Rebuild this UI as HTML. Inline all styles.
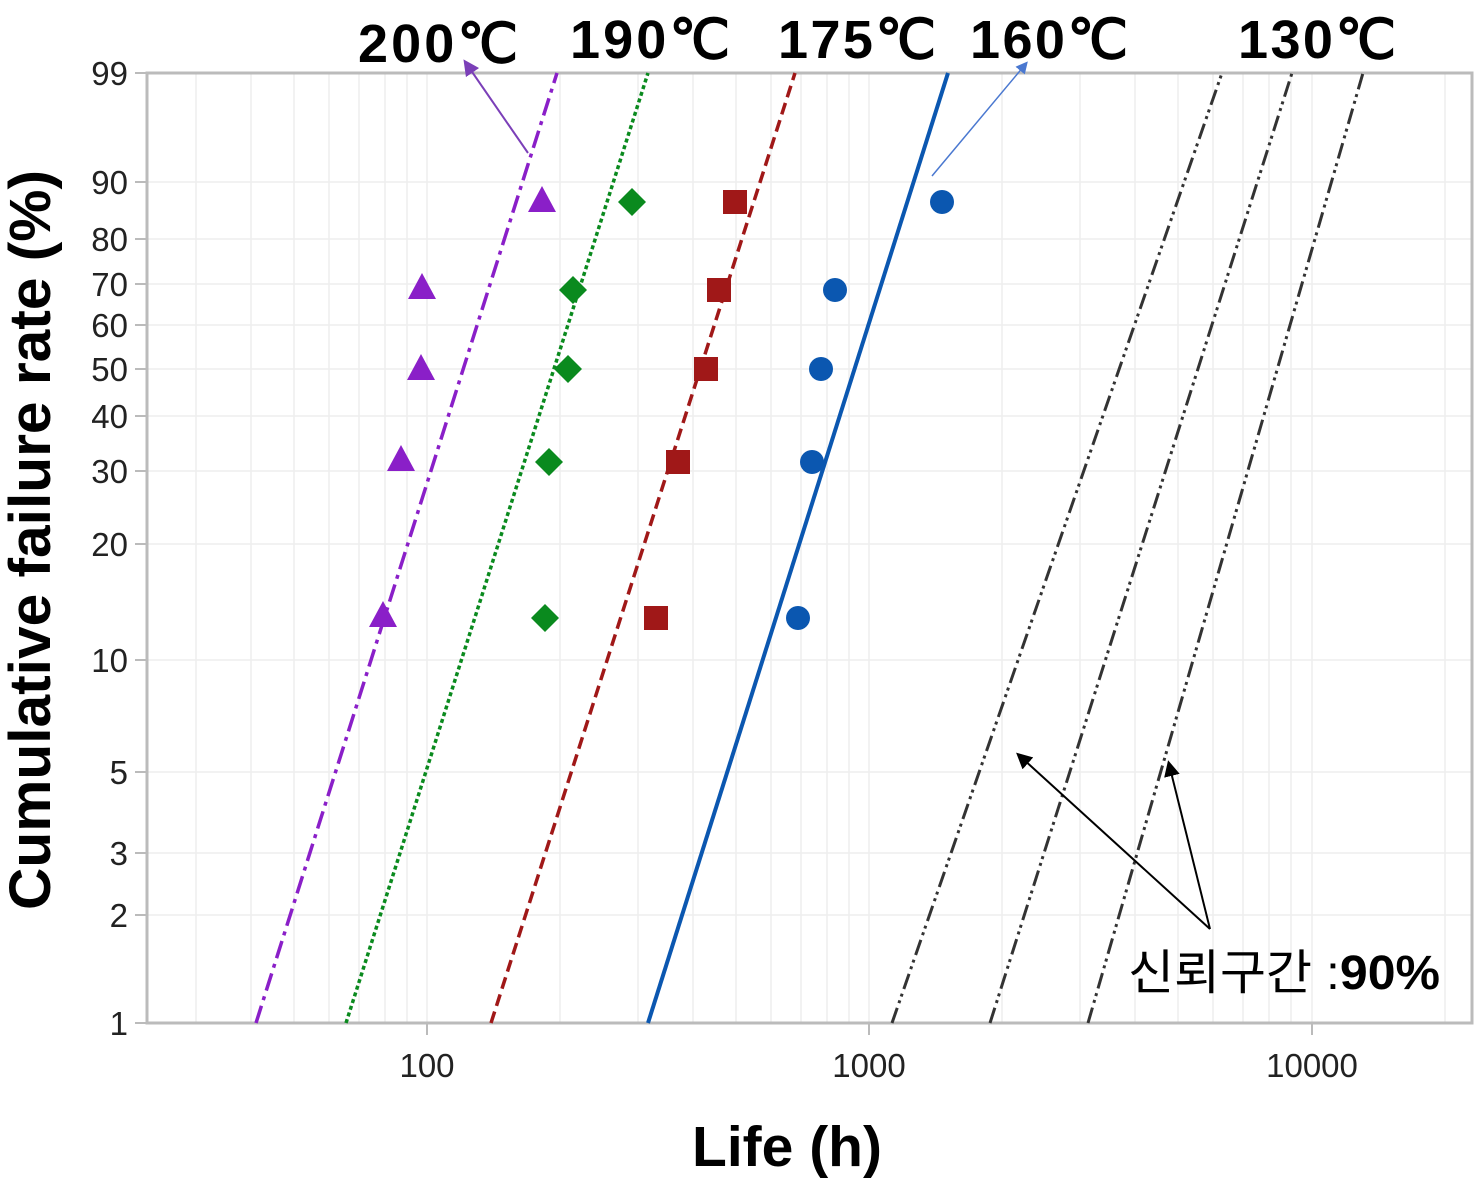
<!DOCTYPE html>
<html><head><meta charset="utf-8"><style>
html,body{margin:0;padding:0;background:#fff;}
svg{display:block;}
</style></head><body>
<svg width="1476" height="1181" viewBox="0 0 1476 1181" xmlns="http://www.w3.org/2000/svg" font-family="Liberation Sans, sans-serif">
<rect width="1476" height="1181" fill="#fff"/>
<g stroke="#eeeeee" stroke-width="1.5">
<line x1="196" y1="73" x2="196" y2="1023"/><line x1="251" y1="73" x2="251" y2="1023"/><line x1="294" y1="73" x2="294" y2="1023"/><line x1="329" y1="73" x2="329" y2="1023"/><line x1="359" y1="73" x2="359" y2="1023"/><line x1="385" y1="73" x2="385" y2="1023"/><line x1="407" y1="73" x2="407" y2="1023"/><line x1="427" y1="73" x2="427" y2="1023"/>
<line x1="560" y1="73" x2="560" y2="1023"/><line x1="638" y1="73" x2="638" y2="1023"/><line x1="693" y1="73" x2="693" y2="1023"/><line x1="736" y1="73" x2="736" y2="1023"/><line x1="771" y1="73" x2="771" y2="1023"/><line x1="801" y1="73" x2="801" y2="1023"/><line x1="827" y1="73" x2="827" y2="1023"/><line x1="849" y1="73" x2="849" y2="1023"/><line x1="869" y1="73" x2="869" y2="1023"/>
<line x1="1002" y1="73" x2="1002" y2="1023"/><line x1="1080" y1="73" x2="1080" y2="1023"/><line x1="1135" y1="73" x2="1135" y2="1023"/><line x1="1178" y1="73" x2="1178" y2="1023"/><line x1="1213" y1="73" x2="1213" y2="1023"/><line x1="1243" y1="73" x2="1243" y2="1023"/><line x1="1269" y1="73" x2="1269" y2="1023"/><line x1="1291" y1="73" x2="1291" y2="1023"/><line x1="1312" y1="73" x2="1312" y2="1023"/><line x1="1445" y1="73" x2="1445" y2="1023"/>
<line x1="147" y1="182" x2="1472" y2="182"/><line x1="147" y1="239" x2="1472" y2="239"/><line x1="147" y1="284" x2="1472" y2="284"/><line x1="147" y1="325" x2="1472" y2="325"/><line x1="147" y1="369" x2="1472" y2="369"/><line x1="147" y1="416" x2="1472" y2="416"/><line x1="147" y1="471" x2="1472" y2="471"/><line x1="147" y1="544" x2="1472" y2="544"/><line x1="147" y1="660" x2="1472" y2="660"/><line x1="147" y1="772" x2="1472" y2="772"/><line x1="147" y1="853" x2="1472" y2="853"/><line x1="147" y1="915" x2="1472" y2="915"/>
</g>
<rect x="147" y="73" width="1325" height="950" fill="none" stroke="#bbbbbb" stroke-width="3"/>
<g stroke="#bbbbbb" stroke-width="2">
<line x1="135" y1="73" x2="147" y2="73"/><line x1="135" y1="182" x2="147" y2="182"/><line x1="135" y1="239" x2="147" y2="239"/><line x1="135" y1="284" x2="147" y2="284"/><line x1="135" y1="325" x2="147" y2="325"/><line x1="135" y1="369" x2="147" y2="369"/><line x1="135" y1="416" x2="147" y2="416"/><line x1="135" y1="471" x2="147" y2="471"/><line x1="135" y1="544" x2="147" y2="544"/><line x1="135" y1="660" x2="147" y2="660"/><line x1="135" y1="772" x2="147" y2="772"/><line x1="135" y1="853" x2="147" y2="853"/><line x1="135" y1="915" x2="147" y2="915"/><line x1="135" y1="1023" x2="147" y2="1023"/>
<line x1="427" y1="1023" x2="427" y2="1035"/><line x1="869" y1="1023" x2="869" y2="1035"/><line x1="1312" y1="1023" x2="1312" y2="1035"/>
</g>
<g font-size="33" fill="#222" text-anchor="end">
<text x="128" y="85">99</text><text x="128" y="194">90</text><text x="128" y="251">80</text><text x="128" y="296">70</text><text x="128" y="337">60</text><text x="128" y="381">50</text><text x="128" y="428">40</text><text x="128" y="483">30</text><text x="128" y="556">20</text><text x="128" y="672">10</text><text x="128" y="784">5</text><text x="128" y="865">3</text><text x="128" y="927">2</text><text x="128" y="1035">1</text>
</g>
<g font-size="33" fill="#222" text-anchor="middle">
<text x="427" y="1077">100</text><text x="869" y="1077">1000</text><text x="1312" y="1077">10000</text>
</g>
<text x="787" y="1166" font-size="57" font-weight="bold" text-anchor="middle" fill="#000">Life (h)</text>
<text transform="translate(50,540) rotate(-90)" font-size="58" font-weight="bold" text-anchor="middle" fill="#000" textLength="740" lengthAdjust="spacingAndGlyphs">Cumulative failure rate (%)</text>
<g font-size="54" fill="#000" font-weight="bold" lengthAdjust="spacingAndGlyphs">
<text x="358" y="62" textLength="160">200℃</text><text x="570" y="58" textLength="160">190℃</text><text x="778" y="58" textLength="158">175℃</text><text x="970" y="58" textLength="158">160℃</text><text x="1238" y="58" textLength="158">130℃</text>
</g>
<!-- fit lines -->
<line x1="256" y1="1023" x2="557" y2="73" stroke="#8a1fc8" stroke-width="3.5" stroke-dasharray="18,6,4,6"/>
<line x1="346" y1="1023" x2="648" y2="73" stroke="#0a8a1e" stroke-width="3.5" stroke-dasharray="4,3"/>
<line x1="491" y1="1023" x2="795" y2="73" stroke="#a01818" stroke-width="3.5" stroke-dasharray="12,6"/>
<line x1="648" y1="1023" x2="948" y2="73" stroke="#0b57b0" stroke-width="4"/>
<g stroke="#333" stroke-width="3" stroke-dasharray="16,5,3,4,3,5">
<line x1="892" y1="1023" x2="1222" y2="73"/><line x1="990" y1="1023" x2="1292" y2="73"/><line x1="1088" y1="1023" x2="1363" y2="73"/>
</g>
<defs>
<marker id="ap" markerWidth="8" markerHeight="8" refX="4" refY="4" orient="auto"><path d="M0,0 L8,4 L0,8z" fill="#7b3fb8"/></marker>
<marker id="ab" markerWidth="8" markerHeight="8" refX="4" refY="4" orient="auto"><path d="M0,0 L8,4 L0,8z" fill="#4a78d0"/></marker>
<marker id="ak" markerWidth="8" markerHeight="8" refX="4" refY="4" orient="auto"><path d="M0,0 L8,4 L0,8z" fill="#000"/></marker>
</defs>
<line x1="528" y1="153" x2="468" y2="66" stroke="#7b3fb8" stroke-width="2" marker-end="url(#ap)"/>
<line x1="932" y1="176" x2="1024" y2="66" stroke="#4a78d0" stroke-width="1.5" marker-end="url(#ab)"/>
<line x1="1210" y1="929" x2="1022" y2="758" stroke="#000" stroke-width="2" marker-end="url(#ak)"/>
<line x1="1210" y1="929" x2="1170" y2="768" stroke="#000" stroke-width="2" marker-end="url(#ak)"/>
<text x="1128" y="989" font-size="48" fill="#000" font-family="Liberation Sans, Noto Sans CJK KR, sans-serif" textLength="312" lengthAdjust="spacingAndGlyphs">신뢰구간 :<tspan font-weight="bold">90%</tspan></text>
<g fill="#8a1fc8">
<path d="M383,601 L397,627 L369,627z"/><path d="M401,445 L415,471 L387,471z"/><path d="M421,354 L435,380 L407,380z"/><path d="M422,273 L436,299 L408,299z"/><path d="M542,186 L556,212 L528,212z"/>
</g>
<g fill="#0a8a1e">
<path d="M545,604 L559,618 L545,632 L531,618z"/><path d="M549,448 L563,462 L549,476 L535,462z"/><path d="M568,355 L582,369 L568,383 L554,369z"/><path d="M573,276 L587,290 L573,304 L559,290z"/><path d="M632,188 L646,202 L632,216 L618,202z"/>
</g>
<g fill="#a01818">
<rect x="644" y="606" width="24" height="24"/><rect x="666" y="450" width="24" height="24"/><rect x="694" y="357" width="24" height="24"/><rect x="707" y="278" width="24" height="24"/><rect x="723" y="190" width="24" height="24"/>
</g>
<g fill="#0b57b0">
<circle cx="798" cy="618" r="12"/><circle cx="812" cy="462" r="12"/><circle cx="821" cy="369" r="12"/><circle cx="835" cy="290" r="12"/><circle cx="942" cy="202" r="12"/>
</g>
</svg>
</body></html>
